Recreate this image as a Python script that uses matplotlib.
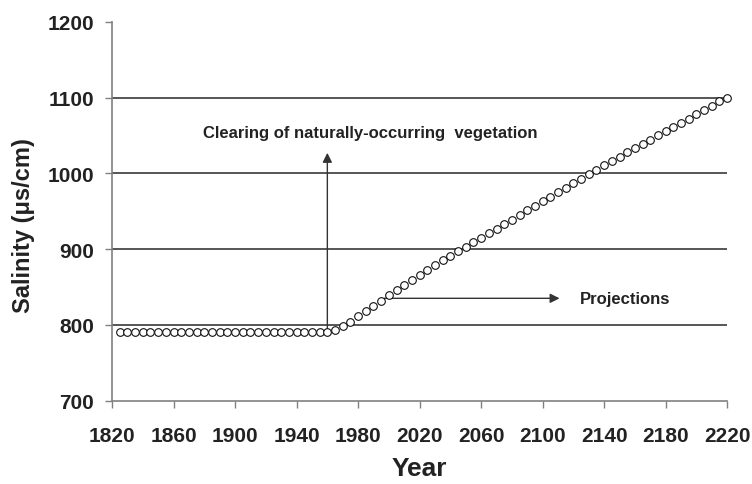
import matplotlib
matplotlib.use("Agg")
import matplotlib.pyplot as plt
import numpy as np

plt.rcParams["font.family"] = ["Liberation Sans", "DejaVu Sans"]

# observed (flat) period, every 5 years
years_obs = list(range(1825, 1965, 5))
salinity_obs = [790] * len(years_obs)

# rising / projected period
years_proj = list(range(1965, 2225, 5))
salinity_proj = [
    793, 798, 804, 811, 818, 825, 832, 839, 846, 852,
    859, 866, 872, 879, 885, 891, 897, 903, 909, 915,
    921, 927, 933, 939, 945, 951, 957, 963, 969, 975,
    981, 987, 993, 999, 1005, 1011, 1016, 1022, 1028, 1033,
    1039, 1044, 1050, 1056, 1061, 1067, 1072, 1078, 1084, 1089,
    1095, 1100,
]

years = years_obs + years_proj
salinity = salinity_obs + salinity_proj

x_ticks = list(range(1820, 2221, 40))
y_ticks = list(range(700, 1201, 100))
grid_levels = [800, 900, 1000, 1100]

clearing_year = 1960
clearing_top = 1027
proj_start = (1997, 835)
proj_end = 2111

fig = plt.figure(figsize=(7.52, 4.85), dpi=100)
ax = fig.add_axes([0.149, 0.172, 0.818, 0.781])

for g in grid_levels:
    ax.axhline(g, color="#3a3a3a", lw=1.2, zorder=1)

ax.plot(years, salinity, "o", ms=5.5, mfc="white", mec="#111111", mew=0.8,
        zorder=3, clip_on=False)

# clearing arrow
ax.annotate("", xy=(clearing_year, clearing_top), xytext=(clearing_year, 790),
            arrowprops=dict(arrowstyle="-|>", color="#333333", lw=1.0,
                            mutation_scale=14, shrinkA=0, shrinkB=0),
            zorder=2)
ax.text(1879, 1054, "Clearing of naturally-occurring  vegetation",
        fontsize=12, fontweight="bold", va="center", ha="left", color="#222222")

# projections arrow
ax.annotate("", xy=(proj_end, proj_start[1]), xytext=proj_start,
            arrowprops=dict(arrowstyle="-|>", color="#333333", lw=1.0,
                            mutation_scale=14, shrinkA=0, shrinkB=0),
            zorder=2)
ax.text(2124, 835, "Projections", fontsize=12, fontweight="bold",
        va="center", ha="left", color="#222222")

ax.set_xlim(1820, 2220)
ax.set_ylim(700, 1200)
ax.set_xticks(x_ticks)
ax.set_yticks(y_ticks)
for lab in ax.get_xticklabels() + ax.get_yticklabels():
    lab.set_fontweight("bold")
    lab.set_fontsize(15)
    lab.set_color("#222222")

ax.tick_params(axis="x", direction="out", length=5, width=1.0,
               color="#808080", pad=13)
ax.tick_params(axis="y", direction="out", length=5, width=1.0,
               color="#808080", pad=8)
for s in ["top", "right"]:
    ax.spines[s].set_visible(False)
for s in ["left", "bottom"]:
    ax.spines[s].set_color("#808080")
    ax.spines[s].set_linewidth(1.2)

ax.set_xlabel("Year", fontsize=19, fontweight="bold", color="#222222",
              va="center")
ax.xaxis.set_label_coords(0.5, -0.178)
ax.set_ylabel("Salinity (\u03bcs/cm)", fontsize=17, fontweight="bold",
              color="#222222")
ax.yaxis.set_label_coords(-0.126, 0.464)

fig.savefig("out.png", dpi=100)
